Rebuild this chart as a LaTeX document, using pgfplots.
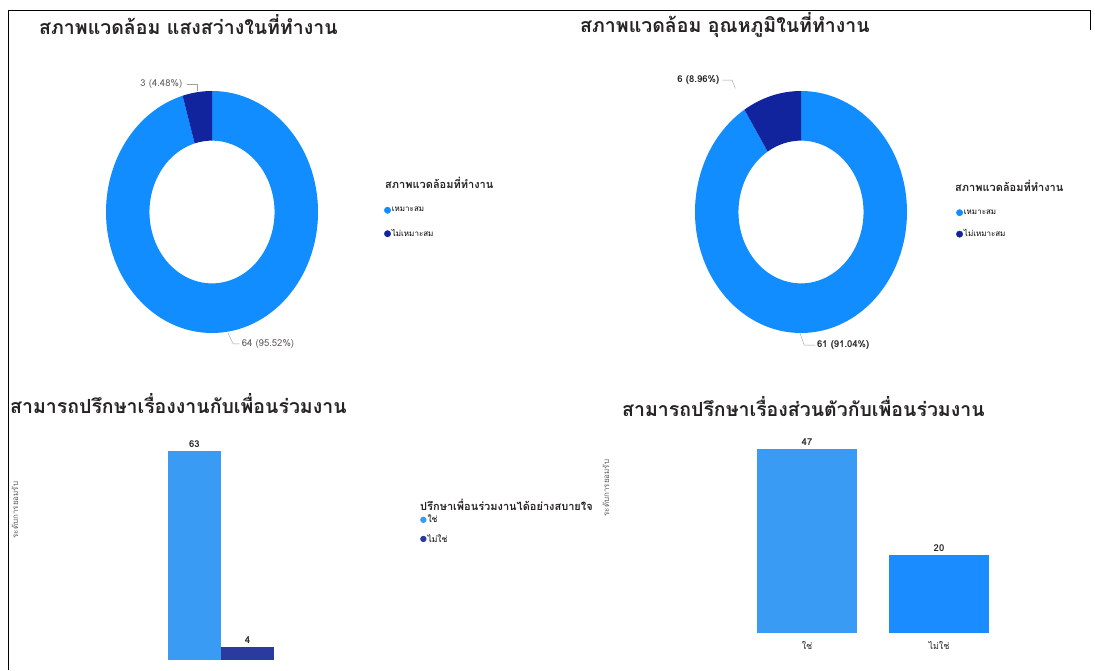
\documentclass[border=0pt]{standalone}
\usepackage{fontspec}
\setmainfont[Script=Thai]{Loma}
\usepackage{pgfplots}
\pgfplotsset{compat=1.18}
\definecolor{pbLight}{HTML}{118DFF}
\definecolor{pbDark}{HTML}{12239E}
\definecolor{barLight}{HTML}{3A9BF5}
\definecolor{barLightB}{HTML}{1A8CFF}
\definecolor{barDark}{HTML}{2B3A9E}
\definecolor{titleGrey}{HTML}{252423}
\definecolor{lblGrey}{HTML}{605E5C}
\newcommand{\slice}[3]{% start, end, colour
  \fill[#3] (axis cs:{cos(#1)},{sin(#1)}) arc[start angle=#1, end angle=#2, x radius=106pt, y radius=121pt]
   -- (axis cs:{0.59*cos(#2)},{0.59*sin(#2)}) arc[start angle=#2, end angle=#1, x radius=62.54pt, y radius=71.39pt] -- cycle;}
\newcommand{\titlefont}{\fontsize{19.5}{22}\selectfont\bfseries\color{titleGrey}}
\newcommand{\smallfont}{\fontsize{8}{9.5}\selectfont}
\newcommand{\numfont}{\fontsize{9.5}{11}\selectfont}
\newcommand{\legtitlefont}{\fontsize{11}{12}\selectfont\bfseries\color{titleGrey}}
\begin{document}
\begin{tikzpicture}
\path[use as bounding box] (0pt,0pt) rectangle (1095pt,670pt);
% frame
\draw[line width=1pt] (8pt,0pt) -- (8pt,659pt) -- (1090pt,659pt) -- (1090pt,640pt);
% titles
\node[anchor=west, inner sep=0] at (39pt,645pt) {\titlefont สภาพแวดล้อม แสงสว่างในที่ทำงาน};
\node[anchor=west, inner sep=0] at (580pt,645pt) {\titlefont สภาพแวดล้อม อุณหภูมิในที่ทำงาน};
\node[anchor=west, inner sep=0] at (10pt,266pt) {\titlefont สามารถปรึกษาเรื่องงานกับเพื่อนร่วมงาน};
\node[anchor=west, inner sep=0] at (622pt,263pt) {\titlefont สามารถปรึกษาเรื่องส่วนตัวกับเพื่อนร่วมงาน};
% legend titles
\node[anchor=west, inner sep=0] at (385pt,487pt) {\legtitlefont สภาพแวดล้อมที่ทำงาน};
\node[anchor=west, inner sep=0] at (955pt,484pt) {\legtitlefont สภาพแวดล้อมที่ทำงาน};
\node[anchor=west, inner sep=0] at (420pt,165pt) {\legtitlefont ปรึกษาเพื่อนร่วมงานได้อย่างสบายใจ};
% y labels
\node[rotate=90, inner sep=0] at (15pt,160pt) {\smallfont\color{lblGrey} ระดับการยอมรับ};
\node[rotate=90, inner sep=0] at (606pt,182pt) {\smallfont\color{lblGrey} ระดับการยอมรับ};

% ---------- donut 1 ----------
\def\tA{67}\def\lA{64}\def\dA{3}
\pgfmathsetmacro\eA{90-360*(\lA/\tA)}
\begin{axis}[at={(212pt,458pt)}, anchor=center, x=106pt, y=121pt,
  xmin=-1, xmax=1, ymin=-1, ymax=1, hide axis, clip=false,
  legend style={at={(1.311,0.525)}, anchor=north west, draw=none, fill=none,
    font=\smallfont, row sep=14pt, inner sep=0pt, nodes={inner sep=1pt}},
  legend cell align=left,
  legend image code/.code={\fill[#1] (0pt,0pt) circle (3.2pt);}]
\addlegendimage{pbLight}\addlegendentry{เหมาะสม}
\addlegendimage{pbDark}\addlegendentry{ไม่เหมาะสม}
\slice{90}{\eA}{pbLight}
\slice{\eA}{-270}{pbDark}
\draw[lblGrey!60, thin] (axis cs:-0.14,1.0) -- (axis cs:-0.14,1.058) -- (axis cs:-0.24,1.058);
\node[anchor=east, inner sep=1pt, font=\numfont, text=lblGrey] at (axis cs:-0.27,1.058) {3 (4.48\%)};
\draw[lblGrey!60, thin] (axis cs:0.15,-1.0) -- (axis cs:0.2,-1.09) -- (axis cs:0.26,-1.09);
\node[anchor=west, inner sep=1pt, font=\numfont, text=lblGrey] at (axis cs:0.27,-1.09) {64 (95.52\%)};
\end{axis}

% ---------- donut 2 ----------
\def\tB{67}\def\lB{61}\def\dB{6}
\pgfmathsetmacro\eB{90-360*(\lB/\tB)}
\begin{axis}[at={(801pt,458pt)}, anchor=center, x=106pt, y=121pt,
  xmin=-1, xmax=1, ymin=-1, ymax=1, hide axis, clip=false,
  legend style={at={(1.231,0.515)}, anchor=north west, draw=none, fill=none,
    font=\smallfont, row sep=12pt, inner sep=0pt, nodes={inner sep=1pt}},
  legend cell align=left,
  legend image code/.code={\fill[#1] (0pt,0pt) circle (3.2pt);}]
\addlegendimage{pbLight}\addlegendentry{เหมาะสม}
\addlegendimage{pbDark}\addlegendentry{ไม่เหมาะสม}
\slice{90}{\eB}{pbLight}
\slice{\eB}{-270}{pbDark}
\draw[lblGrey!60, thin] (axis cs:-0.62,1.02) -- (axis cs:-0.65,1.09) -- (axis cs:-0.74,1.09);
\node[anchor=east, inner sep=1pt, font=\numfont\bfseries, text=titleGrey] at (axis cs:-0.76,1.09) {6 (8.96\%)};
\draw[lblGrey!60, thin] (axis cs:-0.01,-1.0) -- (axis cs:0.03,-1.1) -- (axis cs:0.13,-1.1);
\node[anchor=west, inner sep=1pt, font=\numfont\bfseries, text=titleGrey] at (axis cs:0.14,-1.1) {61 (91.04\%)};
\end{axis}

% ---------- bar chart 1 ----------
\begin{axis}[at={(168pt,10pt)}, anchor=south west, x=53pt, y=3.32pt,
  xmin=-0.5, xmax=1.5, ymin=0, ymax=70, hide axis, clip=false,
  ybar, bar width=53pt, bar shift=0pt,
  nodes near coords, /pgf/number format/assume math mode=true,
  every node near coord/.append style={font=\numfont\bfseries, text=titleGrey},
  legend style={at={(2.377,0.628)}, anchor=north west, draw=none, fill=none,
    font=\fontsize{8.5}{10}\selectfont, row sep=8pt, inner sep=0pt, nodes={inner sep=1pt}},
  legend cell align=left,
  legend image code/.code={\fill[#1] (0pt,0pt) circle (3.2pt);}]
\addplot[fill=barLight, draw=none] coordinates {(0,63)};
\addplot[fill=barDark, draw=none] coordinates {(1,4)};
\legend{ใช่,ไม่ใช่}
\end{axis}

% ---------- bar chart 2 ----------
\begin{axis}[at={(741pt,37pt)}, anchor=south west, x=132pt, y=3.915pt,
  xmin=-0.5, xmax=1.5, ymin=0, ymax=52, clip=false,
  axis line style={draw=none}, ytick=\empty, xtick={0,1},
  xticklabels={ใช่,ไม่ใช่}, major tick length=0pt,
  xticklabel style={font=\fontsize{9}{10}\selectfont, text=titleGrey, yshift=-5pt},
  ybar, bar width=100pt, bar shift=0pt,
  nodes near coords, /pgf/number format/assume math mode=true,
  every node near coord/.append style={font=\numfont\bfseries, text=titleGrey}]
\addplot[fill=barLight, draw=none] coordinates {(0,47)};
\addplot[fill=barLightB, draw=none] coordinates {(1,20)};
\end{axis}
\end{tikzpicture}
\end{document}
